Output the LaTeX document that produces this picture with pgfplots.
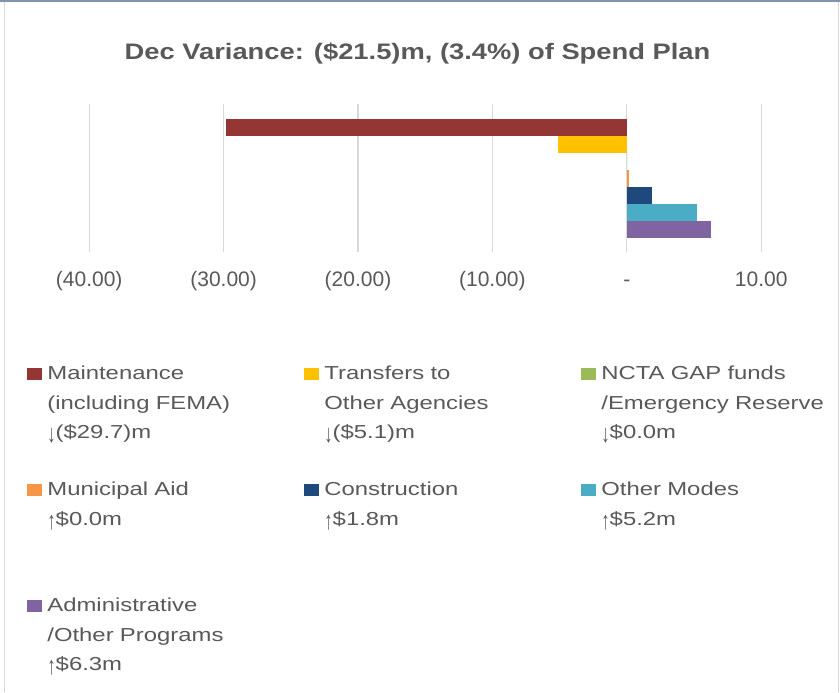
\documentclass[border=0pt]{standalone}
\usepackage{pgfplots}
\pgfplotsset{compat=1.18}
\usepackage{graphicx}
\usepackage{fontspec}
\setmainfont{Liberation Sans}
\newfontfamily\legfont[FakeStretch=1.27]{Liberation Sans}
\newfontfamily\titfont[FakeStretch=1.22]{Liberation Sans}
\definecolor{txt}{HTML}{595959}
\definecolor{gridc}{HTML}{D9D9D9}
\definecolor{topc}{HTML}{7F93AE}
\definecolor{cMaint}{HTML}{943634}
\definecolor{cTrans}{HTML}{FFC000}
\definecolor{cNCTA}{HTML}{9BBB59}
\definecolor{cMuni}{HTML}{F79646}
\definecolor{cCons}{HTML}{1F497D}
\definecolor{cOther}{HTML}{4BACC6}
\definecolor{cAdmin}{HTML}{8064A2}
\newcommand{\dn}{\raisebox{-0.2em}{\scalebox{0.7}[1.35]{↓}}}
\newcommand{\up}{\raisebox{-0.2em}{\scalebox{0.7}[1.35]{↑}}}
\begin{document}
\begin{tikzpicture}
\useasboundingbox (0,0) rectangle (420pt,346pt);
\fill[white] (0,0) rectangle (420pt,346pt);
\draw[gridc, line width=0.8pt] (2.3pt,0) -- (2.3pt,346pt);
\draw[gridc, line width=0.6pt] (419.4pt,0) -- (419.4pt,346pt);
\fill[topc] (0,345pt) rectangle (420pt,346pt);
\node[anchor=base, inner sep=0pt, text=txt, font=\titfont\bfseries\fontsize{11.2}{13}\selectfont] at (208.75pt,316.35pt) {Dec Variance: (\$21.5)m, (3.4\%) of Spend Plan};
\begin{axis}[
  at={(44.6pt,220pt)}, anchor=south west,
  scale only axis, width=336pt, height=74pt,
  xbar, bar width=1, bar shift=0pt,
  xmin=-40, xmax=10, ymin=-1.33, ymax=7.40,
  xtick={-40,-30,-20,-10,0,10},
  xticklabels={(40.00),(30.00),(20.00),(10.00),-,10.00},
  ytick=\empty,
  xmajorgrids, grid style={draw=gridc, line width=0.6pt},
  axis line style={draw=none},
  major tick length=0pt,
  xticklabel style={anchor=base, yshift=-17.35pt, inner sep=0pt, font=\fontsize{10.5}{12}\selectfont, text=txt},
  legend cell align=left,
  legend columns=3,
  legend style={at={(-0.0926,-0.7201)}, anchor=north west, draw=none, fill=none, inner sep=0pt, row sep=13.6pt,
    nodes={inner sep=0pt, text depth=, text width=125pt, align=left, font=\legfont\fontsize{9.4}{14.8}\selectfont, text=txt},
    /tikz/every odd column/.append style={column sep=2.75pt},
    /tikz/every even column/.append style={column sep=3.5pt}},
  legend image code/.code={\fill[#1] (0pt,11.84pt) rectangle (7.25pt,17.84pt);},
]
\addplot[fill=cMaint, draw=none] coordinates {(-29.8,6)};
\addlegendentry{\strut Maintenance\\\strut (including FEMA)\\\strut \dn(\$29.7)m}
\addplot[fill=cTrans, draw=none] coordinates {(-5.1,5)};
\addlegendentry{\strut Transfers to\\\strut Other Agencies\\\strut \dn(\$5.1)m}
\addplot[fill=cNCTA, draw=none] coordinates {(0,4)};
\addlegendentry{\strut NCTA GAP funds\\\strut /Emergency Reserve\\\strut \dn\$0.0m}
\addplot[fill=cMuni, draw=none] coordinates {(0.15,3)};
\addlegendentry{\strut Municipal Aid\\\strut \up\$0.0m\\\strut}
\addplot[fill=cCons, draw=none] coordinates {(1.85,2)};
\addlegendentry{\strut Construction\\\strut \up\$1.8m\\\strut}
\addplot[fill=cOther, draw=none] coordinates {(5.25,1)};
\addlegendentry{\strut Other Modes\\\strut \up\$5.2m\\\strut}
\addplot[fill=cAdmin, draw=none] coordinates {(6.3,0)};
\addlegendentry{\strut Administrative\\\strut /Other Programs\\\strut \up\$6.3m}
\end{axis}
\end{tikzpicture}
\end{document}
